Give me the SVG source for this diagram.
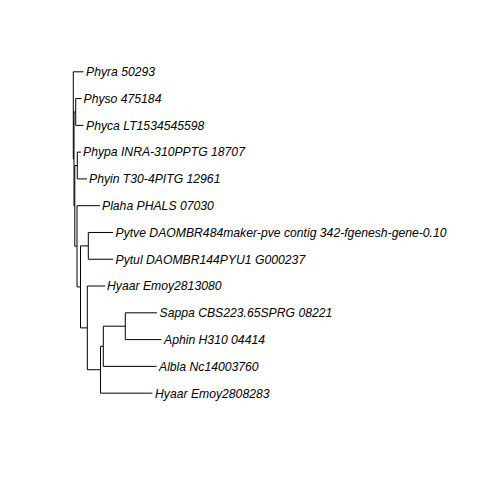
<svg xmlns="http://www.w3.org/2000/svg" width="480" height="480" viewBox="0 0 480 480">
<style>
.e{fill:none;stroke:#000;stroke-width:1}
.t{font-family:"Liberation Sans",Arial,sans-serif;font-style:italic;font-size:12.2px;fill:#000}
</style>
<rect width="480" height="480" fill="#fff"/>
<g id="connectors">
<!-- root -->
<path class="e" d="M73.3,71.8V158.94"/>
<path class="e" d="M73.3,71.8H83.5"/>
<path class="e" d="M73.3,158.94H74"/>
<!-- N1 -->
<path class="e" d="M74,111.97V205.91"/>
<path class="e" d="M74,111.97H75.7"/>
<path class="e" d="M74,205.91H74.8"/>
<!-- N_PP -->
<path class="e" d="M75.7,98.58V125.36"/>
<path class="e" d="M75.7,98.58H81.5"/>
<path class="e" d="M75.7,125.36H83.5"/>
<!-- N2 -->
<path class="e" d="M74.8,165.53V246.29"/>
<path class="e" d="M74.8,165.53H77.3"/>
<path class="e" d="M74.8,246.29H77"/>
<!-- N_PI -->
<path class="e" d="M77.3,152.14V178.92"/>
<path class="e" d="M77.3,152.14H81"/>
<path class="e" d="M77.3,178.92H87"/>
<!-- N3 -->
<path class="e" d="M77,205.7V286.88"/>
<path class="e" d="M77,205.7H100"/>
<path class="e" d="M77,286.88H80.5"/>
<!-- N4 -->
<path class="e" d="M80.5,245.87V327.89"/>
<path class="e" d="M80.5,245.87H88.3"/>
<path class="e" d="M80.5,327.89H87.3"/>
<!-- N_Pyt -->
<path class="e" d="M88.3,232.48V259.26"/>
<path class="e" d="M88.3,232.48H113"/>
<path class="e" d="M88.3,259.26H113"/>
<!-- N5 -->
<path class="e" d="M87.3,286.04V369.73"/>
<path class="e" d="M87.3,286.04H105"/>
<path class="e" d="M87.3,369.73H100.5"/>
<!-- N6 -->
<path class="e" d="M100.5,346.3V393.16"/>
<path class="e" d="M100.5,346.3H103.3"/>
<path class="e" d="M100.5,393.16H152.5"/>
<!-- N7 -->
<path class="e" d="M103.3,326.21V366.38"/>
<path class="e" d="M103.3,326.21H125.3"/>
<path class="e" d="M103.3,366.38H156.5"/>
<!-- N_SA -->
<path class="e" d="M125.3,312.82V339.6"/>
<path class="e" d="M125.3,312.82H157"/>
<path class="e" d="M125.3,339.6H161.5"/>
</g>
<g id="tip-phyra"><text class="t" x="86" y="76.1">Phyra 50293</text></g>
<g id="tip-physo"><text class="t" x="83.5" y="102.9">Physo 475184</text></g>
<g id="tip-phyca"><text class="t" x="86" y="129.7">Phyca LT1534545598</text></g>
<g id="tip-phypa"><text class="t" x="83" y="156.4">Phypa INRA-310PPTG 18707</text></g>
<g id="tip-phyin"><text class="t" x="89" y="183.2">Phyin T30-4PITG 12961</text></g>
<g id="tip-plaha"><text class="t" x="102" y="210">Plaha PHALS 07030</text></g>
<g id="tip-pytve"><text class="t" x="115.5" y="236.8">Pytve DAOMBR484maker-pve contig 342-fgenesh-gene-0.10</text></g>
<g id="tip-pytul"><text class="t" x="115.5" y="263.6">Pytul DAOMBR144PYU1 G000237</text></g>
<g id="tip-hyaar1"><text class="t" x="107" y="290.3">Hyaar Emoy2813080</text></g>
<g id="tip-sappa"><text class="t" x="159.5" y="317.1">Sappa CBS223.65SPRG 08221</text></g>
<g id="tip-aphin"><text class="t" x="164" y="343.9">Aphin H310 04414</text></g>
<g id="tip-albla"><text class="t" x="159" y="370.7">Albla Nc14003760</text></g>
<g id="tip-hyaar2"><text class="t" x="155" y="397.5">Hyaar Emoy2808283</text></g>
</svg>
